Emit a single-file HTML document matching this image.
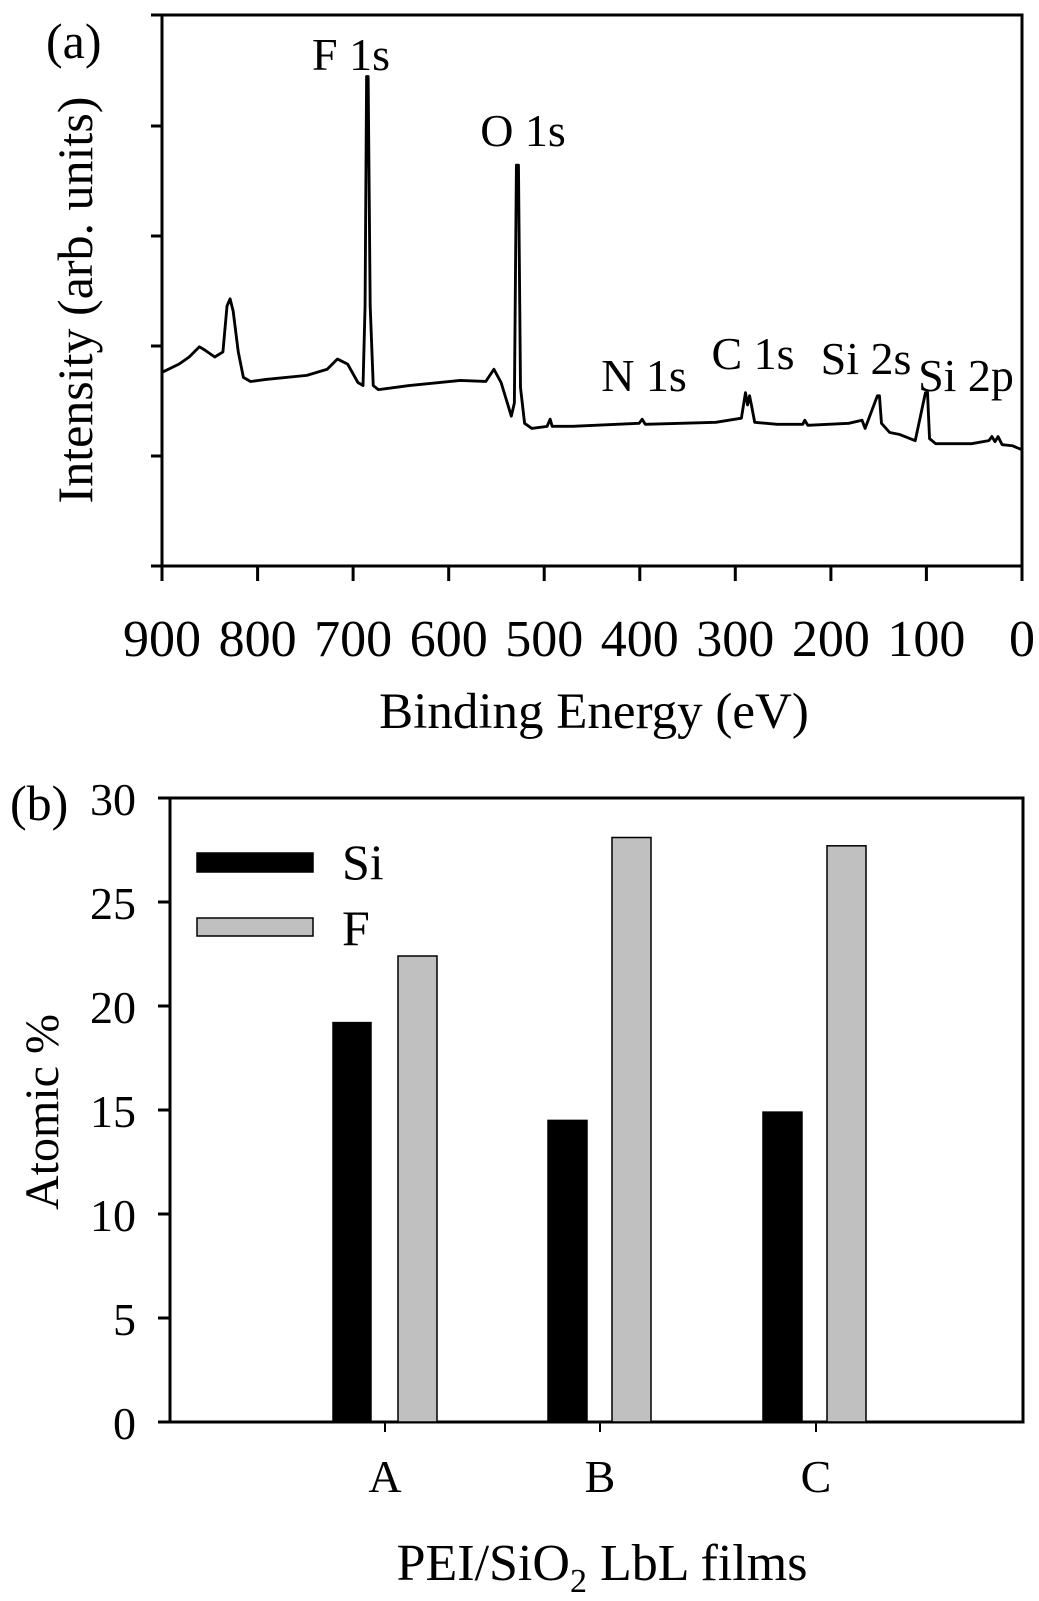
<!DOCTYPE html>
<html><head><meta charset="utf-8"><style>
html,body{margin:0;padding:0;background:#fff}
svg{display:block}
text{font-family:"Liberation Serif",serif;fill:#000}
</style></head><body>
<svg width="1039" height="1601" viewBox="0 0 1039 1601" xmlns="http://www.w3.org/2000/svg">
<!-- Panel (a) -->
<text x="46" y="58" font-size="50">(a)</text>
<rect x="162" y="15" width="860" height="551" fill="none" stroke="#000" stroke-width="3"/>
<g stroke="#000" stroke-width="3">
<line x1="151" y1="15" x2="162" y2="15"/>
<line x1="151" y1="126" x2="162" y2="126"/>
<line x1="151" y1="236" x2="162" y2="236"/>
<line x1="151" y1="346" x2="162" y2="346"/>
<line x1="151" y1="456" x2="162" y2="456"/>
<line x1="151" y1="566" x2="162" y2="566"/>
<line x1="162" y1="566" x2="162" y2="581"/>
<line x1="257.6" y1="566" x2="257.6" y2="581"/>
<line x1="353.1" y1="566" x2="353.1" y2="581"/>
<line x1="448.7" y1="566" x2="448.7" y2="581"/>
<line x1="544.2" y1="566" x2="544.2" y2="581"/>
<line x1="639.8" y1="566" x2="639.8" y2="581"/>
<line x1="735.3" y1="566" x2="735.3" y2="581"/>
<line x1="830.9" y1="566" x2="830.9" y2="581"/>
<line x1="926.4" y1="566" x2="926.4" y2="581"/>
<line x1="1022" y1="566" x2="1022" y2="581"/>
</g>
<g font-size="52" text-anchor="middle">
<text x="162" y="656">900</text><text x="257.6" y="656">800</text><text x="353.1" y="656">700</text>
<text x="448.7" y="656">600</text><text x="544.2" y="656">500</text><text x="639.8" y="656">400</text>
<text x="735.3" y="656">300</text><text x="830.9" y="656">200</text><text x="926.4" y="656">100</text>
<text x="1022" y="656">0</text>
</g>
<text x="594" y="728" font-size="51" text-anchor="middle">Binding Energy (eV)</text>
<text transform="translate(92,300) rotate(-90)" font-size="50" text-anchor="middle">Intensity (arb. units)</text>
<g font-size="46" text-anchor="middle">
<text x="351" y="70">F 1s</text>
<text x="523" y="146">O 1s</text>
<text x="644" y="391">N 1s</text>
<text x="753" y="369">C 1s</text>
<text x="866" y="374">Si 2s</text>
<text x="966" y="391">Si 2p</text>
</g>
<g transform="scale(1.0226,1.02)">
<polyline fill="none" stroke="#000" stroke-width="2.8" stroke-linejoin="round" points="158.5,365 175,357 185,350 195,340 200,343 210,350 218,345 222,300 225,293 228,305 233,345 238,370 245,374 260,372 300,368 320,362 330,352 340,357 350,375 355,378 357,300 358.5,75 360,75 362,300 365,378 370,382 400,378 450,373 475,374 483,362 490,375 497,398 500,408 503,395 505,162 507,162 509,380 513,415 520,420 535,418 538,411 540,418 560,418 625,415 628,411 631,416 700,414 725,410 729,385 731,397 733,388 735,398 738,414 760,416 785,416 787,412 790,417 830,415 843,412 846,420 858,388 860,388 862,415 870,424 880,426 895,432 905,385 907,385 909,430 915,435 950,435 967,432 970,428 973,433 976,428 980,436 990,437 999.5,441"/>
</g>
<!-- Panel (b) -->
<text x="10" y="820" font-size="50">(b)</text>
<rect x="170" y="798" width="853" height="624" fill="none" stroke="#000" stroke-width="3"/>
<g stroke="#000" stroke-width="3">
<line x1="158" y1="798" x2="170" y2="798"/>
<line x1="158" y1="902" x2="170" y2="902"/>
<line x1="158" y1="1006" x2="170" y2="1006"/>
<line x1="158" y1="1110" x2="170" y2="1110"/>
<line x1="158" y1="1214" x2="170" y2="1214"/>
<line x1="158" y1="1318" x2="170" y2="1318"/>
<line x1="158" y1="1422" x2="170" y2="1422"/>
</g>
<g stroke="#000" stroke-width="2">
<line x1="385" y1="1422" x2="385" y2="1432"/>
<line x1="600" y1="1422" x2="600" y2="1432"/>
<line x1="816" y1="1422" x2="816" y2="1432"/>
</g>
<g font-size="46" text-anchor="end">
<text x="136" y="815">30</text><text x="136" y="919">25</text><text x="136" y="1023">20</text>
<text x="136" y="1127">15</text><text x="136" y="1231">10</text><text x="136" y="1335">5</text>
<text x="136" y="1439">0</text>
</g>
<g stroke="#000" stroke-width="1.5">
<rect x="333" y="1022.6" width="38" height="399.4" fill="#000"/>
<rect x="398" y="956" width="39" height="466" fill="#c0c0c0"/>
<rect x="548" y="1120.4" width="39" height="301.6" fill="#000"/>
<rect x="612" y="837.5" width="39" height="584.5" fill="#c0c0c0"/>
<rect x="763" y="1112.1" width="39" height="309.9" fill="#000"/>
<rect x="827" y="845.8" width="39" height="576.2" fill="#c0c0c0"/>
<rect x="197" y="853" width="116" height="19" fill="#000"/>
<rect x="197" y="918" width="116" height="18" fill="#c0c0c0"/>
</g>
<text x="342" y="879" font-size="50">Si</text>
<text x="342" y="945" font-size="50">F</text>
<g font-size="46" text-anchor="middle">
<text x="385" y="1492">A</text><text x="600" y="1492">B</text><text x="816" y="1492">C</text>
</g>
<text x="602" y="1580" font-size="52" text-anchor="middle">PEI/SiO<tspan font-size="34" dy="12">2</tspan><tspan dy="-12"> LbL films</tspan></text>
<text transform="translate(58,1112) rotate(-90)" font-size="48" text-anchor="middle">Atomic %</text>
</svg>
</body></html>
